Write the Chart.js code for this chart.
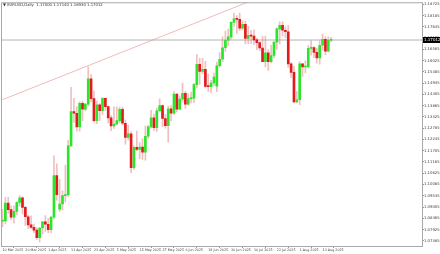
<!DOCTYPE html>
<html>
<head>
<meta charset="utf-8">
<script src="https://cdn.jsdelivr.net/npm/chart.js@4.4.0/dist/chart.umd.min.js"></script>
<style>
html,body{margin:0;padding:0;background:#fff;}
#wrap{width:440px;height:254px;}
</style>
</head>
<body>
<div id="wrap"><canvas id="chart" width="440" height="254"></canvas></div>
<script>
// EURUSD daily, 10 Mar 2025 .. 18 Aug 2025 (one entry per trading day)
var opens = [1.0833,1.0834,1.0919,1.0888,1.0852,1.0880,1.0922,1.0944,1.0899,1.0854,
	1.0815,1.0803,1.0790,1.0753,1.0800,1.0830,1.0818,1.0792,1.0852,1.1051,
	1.0890,1.0915,1.0955,1.0960,1.1194,1.1358,1.1350,1.1284,1.1398,1.1370,
	1.1394,1.1515,1.1420,1.1314,1.1391,1.1363,1.1422,1.1382,1.1328,1.1289,
	1.1298,1.1315,1.1369,1.1302,1.1234,1.1252,1.1089,1.1187,1.1177,1.1188,
	1.1163,1.1240,1.1285,1.1328,1.1281,1.1362,1.1387,1.1325,1.1290,1.1371,
	1.1350,1.1442,1.1370,1.1418,1.1446,1.1394,1.1420,1.1422,1.1487,1.1585,
	1.1551,1.1561,1.1479,1.1478,1.1495,1.1480,1.1578,1.1609,1.1664,1.1700,
	1.1716,1.1786,1.1803,1.1800,1.1758,1.1777,1.1709,1.1724,1.1720,1.1702,
	1.1689,1.1663,1.1598,1.1640,1.1597,1.1627,1.1691,1.1755,1.1772,1.1748,
	1.1741,1.1587,1.1546,1.1404,1.1415,1.1587,1.1572,1.1574,1.1661,1.1665,
	1.1642,1.1616,1.1676,1.1705,1.1648,1.1700];
var highs = [1.0889,1.0947,1.0947,1.0906,1.0906,1.0926,1.0955,1.0949,1.0905,1.0862,
	1.0858,1.0819,1.0802,1.0803,1.0832,1.0859,1.0846,1.0855,1.1146,1.1107,
	1.1032,1.0978,1.1100,1.1220,1.1474,1.1422,1.1382,1.1405,1.1408,1.1396,
	1.1573,1.1536,1.1457,1.1409,1.1396,1.1425,1.1424,1.1384,1.1339,1.1381,
	1.1381,1.1380,1.1380,1.1317,1.1293,1.1262,1.1194,1.1265,1.1210,1.1227,
	1.1288,1.1292,1.1364,1.1346,1.1375,1.1419,1.1391,1.1344,1.1385,1.1387,
	1.1454,1.1444,1.1434,1.1495,1.1455,1.1443,1.1452,1.1494,1.1631,1.1614,
	1.1614,1.1599,1.1538,1.1508,1.1543,1.1595,1.1641,1.1717,1.1744,1.1754,
	1.1790,1.1830,1.1818,1.1830,1.1794,1.1792,1.1767,1.1746,1.1750,1.1709,
	1.1692,1.1720,1.1720,1.1656,1.1677,1.1692,1.1760,1.1788,1.1789,1.1764,
	1.1771,1.1593,1.1575,1.1455,1.1598,1.1590,1.1601,1.1675,1.1699,1.1670,
	1.1663,1.1697,1.1730,1.1717,1.1716,1.1714];
var lows = [1.0806,1.0820,1.0870,1.0840,1.0823,1.0863,1.0904,1.0867,1.0812,1.0797,
	1.0798,1.0778,1.0745,1.0733,1.0772,1.0783,1.0777,1.0777,1.0842,1.0932,
	1.0880,1.0887,1.0925,1.0950,1.1192,1.1306,1.1264,1.1264,1.1313,1.1361,
	1.1384,1.1405,1.1307,1.1300,1.1314,1.1344,1.1362,1.1304,1.1266,1.1277,
	1.1297,1.1304,1.1294,1.1202,1.1221,1.1065,1.1081,1.1171,1.1132,1.1129,
	1.1125,1.1230,1.1279,1.1266,1.1263,1.1359,1.1285,1.1279,1.1211,1.1313,
	1.1345,1.1357,1.1367,1.1404,1.1373,1.1389,1.1400,1.1401,1.1472,1.1490,
	1.1540,1.1471,1.1453,1.1448,1.1482,1.1453,1.1571,1.1598,1.1646,1.1675,
	1.1706,1.1766,1.1733,1.1746,1.1750,1.1682,1.1682,1.1684,1.1680,1.1655,
	1.1650,1.1597,1.1572,1.1556,1.1592,1.1616,1.1656,1.1683,1.1721,1.1713,
	1.1570,1.1521,1.1400,1.1400,1.1391,1.1527,1.1543,1.1566,1.1629,1.1617,
	1.1590,1.1585,1.1652,1.1630,1.1645,1.1693];
var closes = [1.0834,1.0919,1.0888,1.0852,1.0880,1.0922,1.0944,1.0899,1.0854,1.0815,
	1.0803,1.0790,1.0753,1.0800,1.0830,1.0818,1.0792,1.0852,1.1051,1.0960,
	1.0915,1.0955,1.0960,1.1194,1.1358,1.1350,1.1284,1.1398,1.1370,1.1394,
	1.1515,1.1420,1.1314,1.1391,1.1363,1.1422,1.1382,1.1328,1.1289,1.1298,
	1.1315,1.1369,1.1302,1.1234,1.1252,1.1089,1.1187,1.1177,1.1188,1.1163,
	1.1240,1.1285,1.1328,1.1281,1.1362,1.1387,1.1325,1.1290,1.1371,1.1350,
	1.1442,1.1370,1.1418,1.1446,1.1394,1.1420,1.1422,1.1487,1.1585,1.1551,
	1.1561,1.1479,1.1478,1.1495,1.1523,1.1578,1.1609,1.1664,1.1700,1.1716,
	1.1786,1.1803,1.1800,1.1758,1.1777,1.1709,1.1724,1.1720,1.1702,1.1689,
	1.1663,1.1598,1.1640,1.1597,1.1627,1.1691,1.1755,1.1772,1.1748,1.1741,
	1.1587,1.1546,1.1404,1.1415,1.1587,1.1572,1.1574,1.1661,1.1665,1.1642,
	1.1616,1.1676,1.1705,1.1648,1.1700,1.17012];

// drawn trend line (bar index, price)
var trendLine = [{x: 0, y: 1.1415}, {x: 120, y: 1.2069}];
var lastPrice = 1.17012;
var headerText = "EURUSD,Daily  1.17000 1.17140 1.16930 1.17012";

// axis labels
var xTickIdx = [0, 8, 16, 24, 32, 40, 48, 56, 64, 72, 80, 88, 96, 104, 112];
var xTickLabels = ["10 Mar 2025", "20 Mar 2025", "1 Apr 2025", "11 Apr 2025", "23 Apr 2025",
	"5 May 2025", "15 May 2025", "27 May 2025", "6 Jun 2025", "18 Jun 2025",
	"30 Jun 2025", "10 Jul 2025", "22 Jul 2025", "1 Aug 2025", "13 Aug 2025"];
var yTicks = [1.18725, 1.18185, 1.17645, 1.17105, 1.16565, 1.16025, 1.15485, 1.14945,
	1.14405, 1.13865, 1.13325, 1.12785, 1.12245, 1.11705, 1.11165, 1.10625,
	1.10085, 1.09545, 1.09005, 1.08465, 1.07925, 1.07385];

var upColor = "#2ae52a";
var downColor = "#e21c1c";
var wickColor = "rgba(226,130,130,0.5)";
var xMin = -0.525, xMax = 146.8;
var yMin = 1.07136, yMax = 1.18822;

var bodyData = [], wickData = [], bodyColors = [];
for (var i = 0; i < opens.length; i++) {
	bodyData.push({x: i, y: [opens[i], closes[i]]});
	wickData.push({x: i, y: [lows[i], highs[i]]});
	bodyColors.push(closes[i] >= opens[i] ? upColor : downColor);
}

var mtFrame = {
	id: 'mtFrame',
	beforeDraw: function(chart) {
		var ctx = chart.ctx;
		ctx.save();
		ctx.fillStyle = "#fff";
		ctx.fillRect(0, 0, chart.width, chart.height);
		ctx.restore();
	},
	afterDraw: function(chart) {
		var ctx = chart.ctx, a = chart.chartArea;
		var y = chart.scales.y.getPixelForValue(lastPrice);
		ctx.save();
		// frame
		ctx.strokeStyle = "#a8a8a8";
		ctx.lineWidth = 1;
		ctx.beginPath();
		ctx.moveTo(a.left + 0.5, a.bottom);
		ctx.lineTo(a.left + 0.5, a.top + 0.5);
		ctx.lineTo(a.right, a.top + 0.5);
		ctx.stroke();
		// header
		ctx.fillStyle = "#333";
		ctx.font = "3.8px 'DejaVu Sans'";
		ctx.textBaseline = "middle";
		ctx.textAlign = "left";
		ctx.fillText("\u25BC " + headerText, 3, 5);
		// price tag
		ctx.font = "4px 'DejaVu Sans'";
		ctx.fillStyle = "#000";
		ctx.fillRect(a.right + 1, Math.round(y) - 3, 17, 6);
		ctx.fillStyle = "#fff";
		ctx.fillText(lastPrice.toFixed(5), a.right + 2, Math.round(y));
		ctx.restore();
	}
};

Chart.defaults.font.family = "'DejaVu Sans'";
Chart.defaults.animation = false;

new Chart(document.getElementById("chart"), {
	type: 'bar',
	data: {
		datasets: [{
			type: 'line',
			data: trendLine,
			borderColor: "rgba(232,140,140,0.6)",
			borderWidth: 1,
			pointRadius: 0,
			order: 0
		}, {
			data: bodyData,
			backgroundColor: bodyColors,
			barThickness: 2,
			grouped: false,
			minBarLength: 1,
			order: 1
		}, {
			data: wickData,
			backgroundColor: wickColor,
			barThickness: 1,
			grouped: false,
			order: 2
		}, {
			type: 'line',
			data: [{x: xMin, y: lastPrice}, {x: xMax, y: lastPrice}],
			borderColor: "#b4b4b4",
			borderWidth: 1,
			pointRadius: 0,
			order: 3
		}]
	},
	options: {
		responsive: false,
		devicePixelRatio: 1,
		layout: {padding: {left: 1, top: 1, right: 0, bottom: 0}},
		plugins: {legend: {display: false}, tooltip: {enabled: false}},
		scales: {
			x: {
				type: 'linear',
				min: xMin,
				max: xMax,
				offset: false,
				grid: {display: true, drawOnChartArea: false, tickLength: 2, color: "#999"},
				border: {display: true, color: "#a8a8a8"},
				afterBuildTicks: function(s) {
					s.ticks = xTickIdx.map(function(v){ return {value: v}; });
				},
				afterFit: function(s) { s.height = 8; },
				ticks: {
					autoSkip: false,
					maxRotation: 0,
					align: 'start',
					padding: 0,
					color: "#444",
					font: {size: 3.3},
					callback: function(v) { return xTickLabels[xTickIdx.indexOf(v)]; }
				}
			},
			y: {
				position: 'right',
				min: yMin,
				max: yMax,
				grid: {display: true, drawOnChartArea: false, tickLength: 2, color: "#999"},
				border: {display: true, color: "#a8a8a8"},
				afterBuildTicks: function(s) {
					s.ticks = yTicks.map(function(v){ return {value: v}; });
				},
				afterFit: function(s) { s.width = 18; },
				ticks: {
					autoSkip: false,
					padding: 0,
					color: "#444",
					font: {size: 3.8},
					callback: function(v) { return v.toFixed(5); }
				}
			}
		}
	},
	plugins: [mtFrame]
});
</script>
</body>
</html>
